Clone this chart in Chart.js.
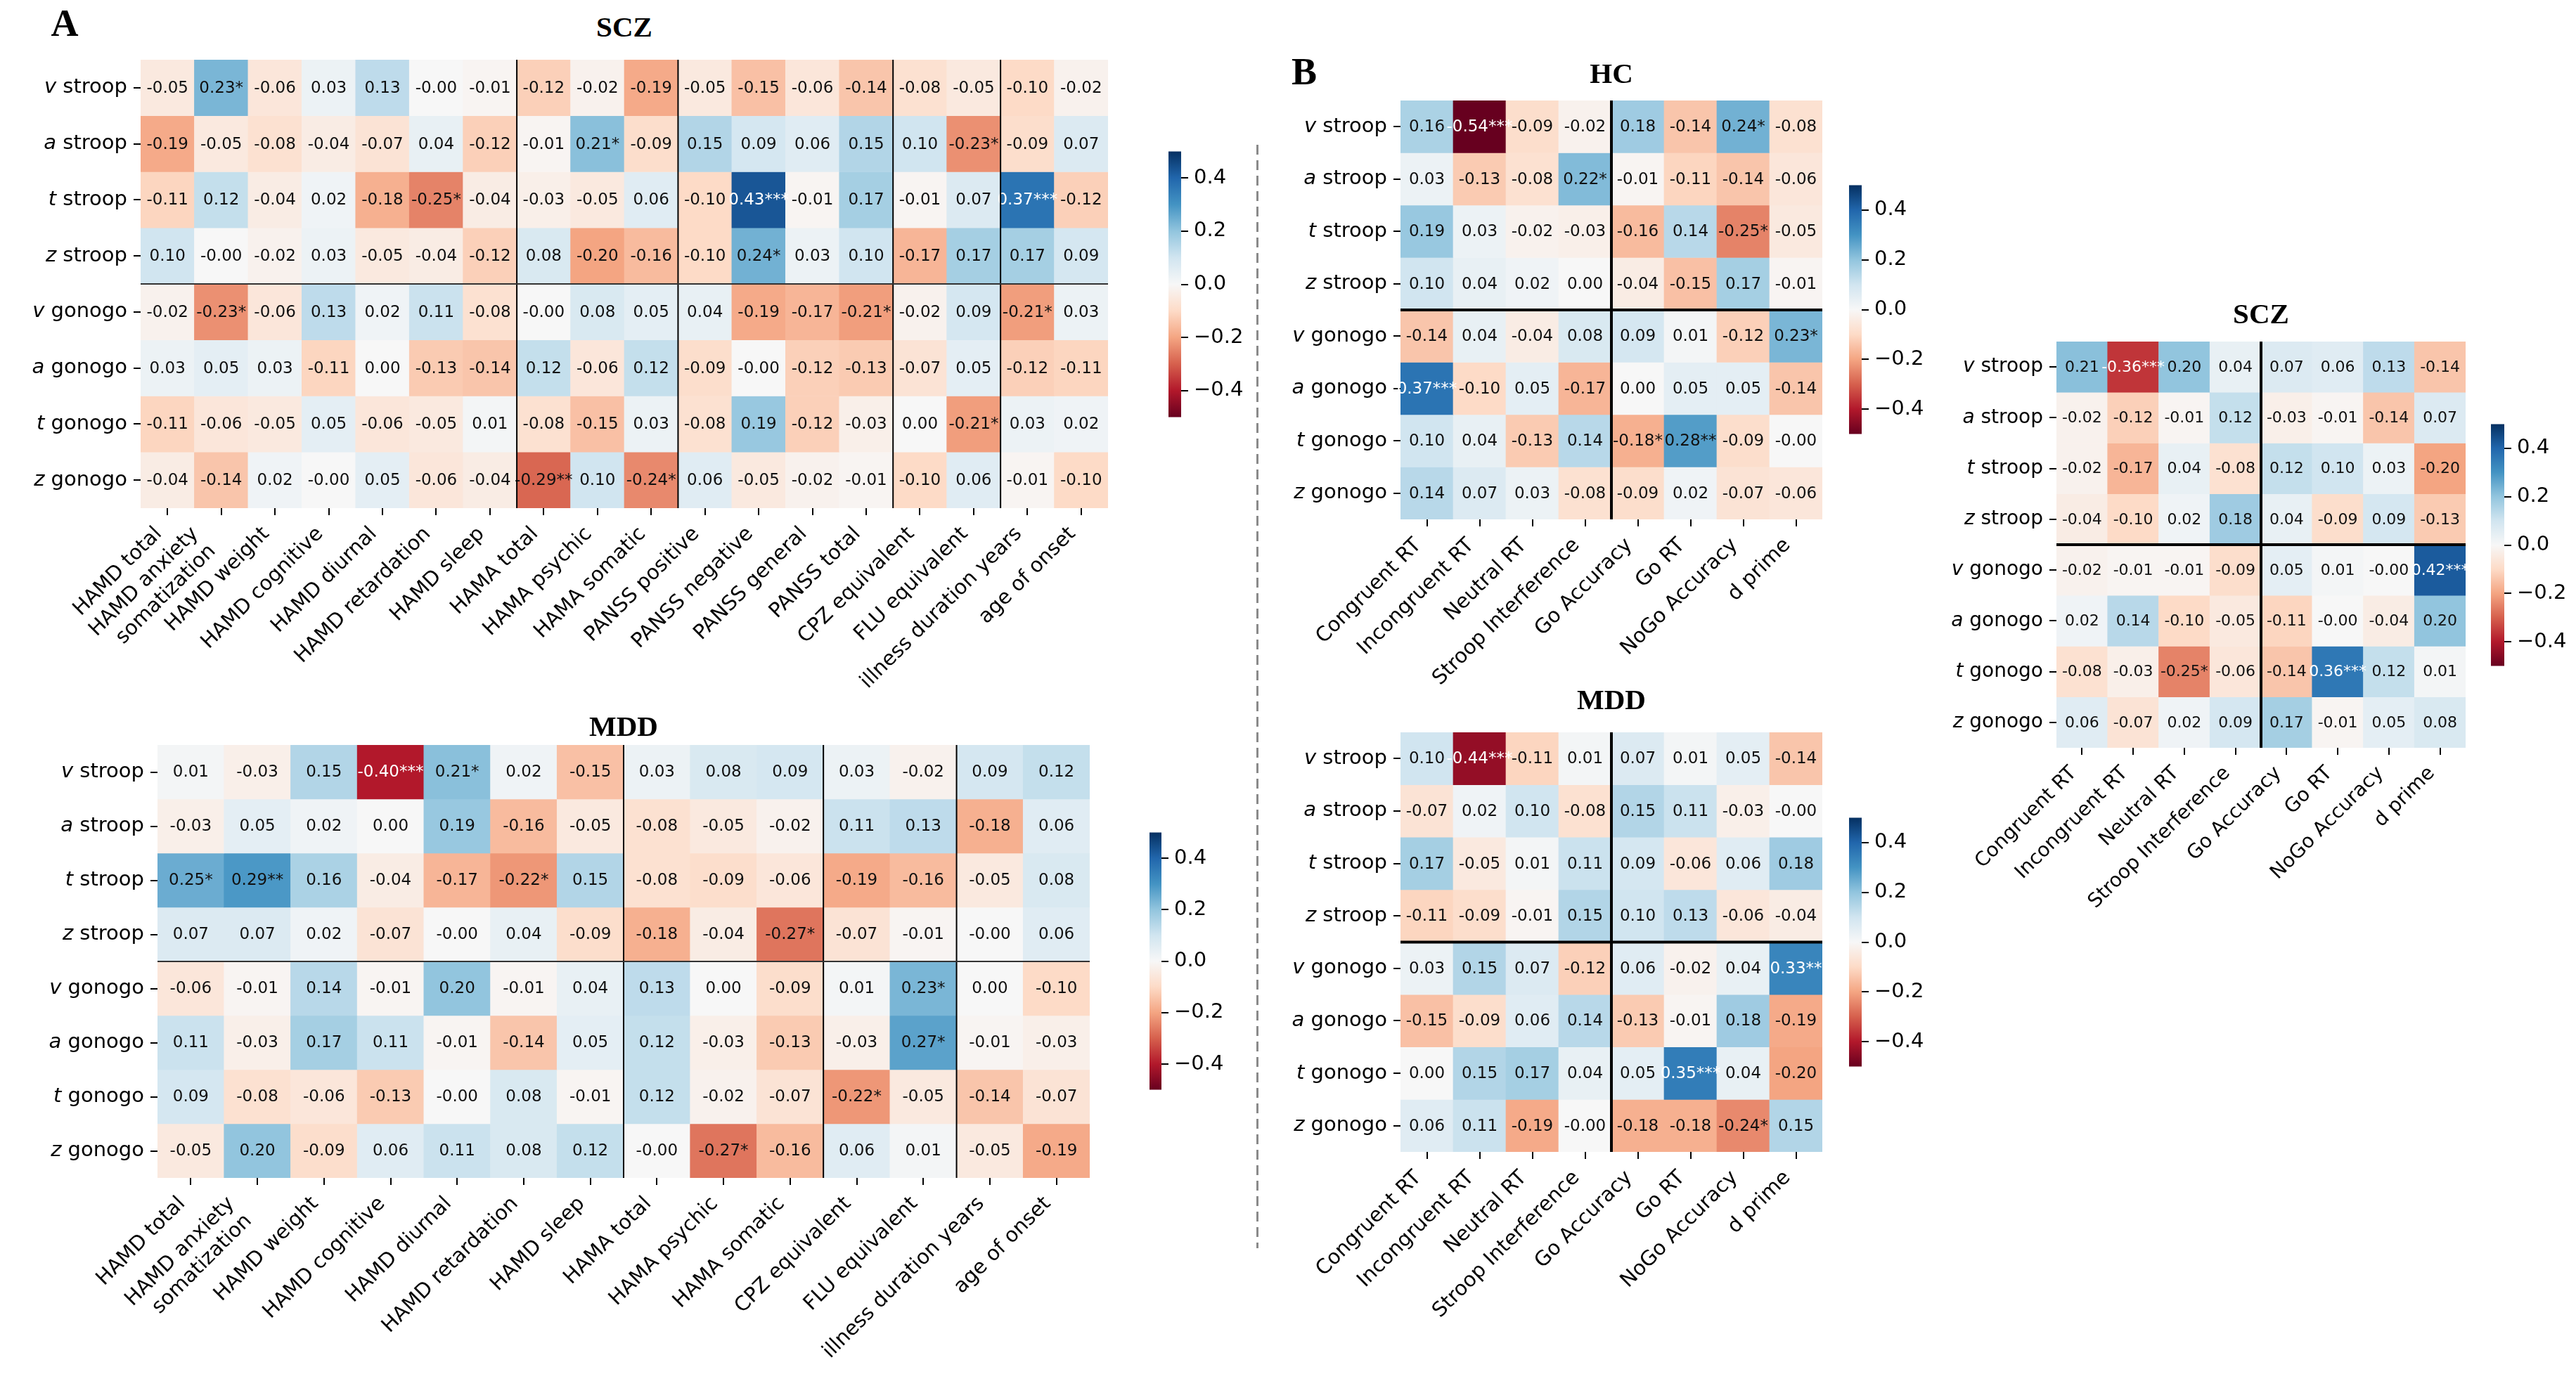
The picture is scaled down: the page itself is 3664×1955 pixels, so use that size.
<!DOCTYPE html>
<html><head><meta charset="utf-8">
<script src="https://cdn.jsdelivr.net/npm/chart.js@4.4.1/dist/chart.umd.min.js"></script>
<style>
html,body{margin:0;padding:0;background:#fff;}
#root{position:relative;width:3664px;height:1955px;overflow:hidden;background:#fff;}
#root canvas{position:absolute;}
.ttl{position:absolute;font-family:"Liberation Serif","Times New Roman",serif;font-weight:bold;color:#000;white-space:nowrap;transform:translate(-50%,-50%);line-height:1;}
.dash{position:absolute;width:3px;background:repeating-linear-gradient(to bottom,#8a8a8a 0 14px,rgba(0,0,0,0) 14px 22px);}
</style></head><body><div id="root"></div>
<script>
// ---------- data ----------
const rowVars  = ['v','a','t','z','v','a','t','z'];
const rowTasks = ['stroop','stroop','stroop','stroop','gonogo','gonogo','gonogo','gonogo'];

const clinColsSCZ = ['HAMD total',['HAMD anxiety','somatization'],'HAMD weight','HAMD cognitive','HAMD diurnal','HAMD retardation','HAMD sleep','HAMA total','HAMA psychic','HAMA somatic','PANSS positive','PANSS negative','PANSS general','PANSS total','CPZ equivalent','FLU equivalent','illness duration years','age of onset'];
const clinColsMDD = ['HAMD total',['HAMD anxiety','somatization'],'HAMD weight','HAMD cognitive','HAMD diurnal','HAMD retardation','HAMD sleep','HAMA total','HAMA psychic','HAMA somatic','CPZ equivalent','FLU equivalent','illness duration years','age of onset'];
const taskCols = ['Congruent RT','Incongruent RT','Neutral RT','Stroop Interference','Go Accuracy','Go RT','NoGo Accuracy','d prime'];

const breaksSCZA = [7,10,14,16];
const breaksMDDA = [7,10,12];
const breaksB = [4];
const rowBreak = 4;

const sczA = [
 ['-0.05','0.23*','-0.06','0.03','0.13','-0.00','-0.01','-0.12','-0.02','-0.19','-0.05','-0.15','-0.06','-0.14','-0.08','-0.05','-0.10','-0.02'],
 ['-0.19','-0.05','-0.08','-0.04','-0.07','0.04','-0.12','-0.01','0.21*','-0.09','0.15','0.09','0.06','0.15','0.10','-0.23*','-0.09','0.07'],
 ['-0.11','0.12','-0.04','0.02','-0.18','-0.25*','-0.04','-0.03','-0.05','0.06','-0.10','0.43***','-0.01','0.17','-0.01','0.07','0.37***','-0.12'],
 ['0.10','-0.00','-0.02','0.03','-0.05','-0.04','-0.12','0.08','-0.20','-0.16','-0.10','0.24*','0.03','0.10','-0.17','0.17','0.17','0.09'],
 ['-0.02','-0.23*','-0.06','0.13','0.02','0.11','-0.08','-0.00','0.08','0.05','0.04','-0.19','-0.17','-0.21*','-0.02','0.09','-0.21*','0.03'],
 ['0.03','0.05','0.03','-0.11','0.00','-0.13','-0.14','0.12','-0.06','0.12','-0.09','-0.00','-0.12','-0.13','-0.07','0.05','-0.12','-0.11'],
 ['-0.11','-0.06','-0.05','0.05','-0.06','-0.05','0.01','-0.08','-0.15','0.03','-0.08','0.19','-0.12','-0.03','0.00','-0.21*','0.03','0.02'],
 ['-0.04','-0.14','0.02','-0.00','0.05','-0.06','-0.04','-0.29**','0.10','-0.24*','0.06','-0.05','-0.02','-0.01','-0.10','0.06','-0.01','-0.10']
];
const mddA = [
 ['0.01','-0.03','0.15','-0.40***','0.21*','0.02','-0.15','0.03','0.08','0.09','0.03','-0.02','0.09','0.12'],
 ['-0.03','0.05','0.02','0.00','0.19','-0.16','-0.05','-0.08','-0.05','-0.02','0.11','0.13','-0.18','0.06'],
 ['0.25*','0.29**','0.16','-0.04','-0.17','-0.22*','0.15','-0.08','-0.09','-0.06','-0.19','-0.16','-0.05','0.08'],
 ['0.07','0.07','0.02','-0.07','-0.00','0.04','-0.09','-0.18','-0.04','-0.27*','-0.07','-0.01','-0.00','0.06'],
 ['-0.06','-0.01','0.14','-0.01','0.20','-0.01','0.04','0.13','0.00','-0.09','0.01','0.23*','0.00','-0.10'],
 ['0.11','-0.03','0.17','0.11','-0.01','-0.14','0.05','0.12','-0.03','-0.13','-0.03','0.27*','-0.01','-0.03'],
 ['0.09','-0.08','-0.06','-0.13','-0.00','0.08','-0.01','0.12','-0.02','-0.07','-0.22*','-0.05','-0.14','-0.07'],
 ['-0.05','0.20','-0.09','0.06','0.11','0.08','0.12','-0.00','-0.27*','-0.16','0.06','0.01','-0.05','-0.19']
];
const hcB = [
 ['0.16','-0.54***','-0.09','-0.02','0.18','-0.14','0.24*','-0.08'],
 ['0.03','-0.13','-0.08','0.22*','-0.01','-0.11','-0.14','-0.06'],
 ['0.19','0.03','-0.02','-0.03','-0.16','0.14','-0.25*','-0.05'],
 ['0.10','0.04','0.02','0.00','-0.04','-0.15','0.17','-0.01'],
 ['-0.14','0.04','-0.04','0.08','0.09','0.01','-0.12','0.23*'],
 ['0.37***','-0.10','0.05','-0.17','0.00','0.05','0.05','-0.14'],
 ['0.10','0.04','-0.13','0.14','-0.18*','0.28**','-0.09','-0.00'],
 ['0.14','0.07','0.03','-0.08','-0.09','0.02','-0.07','-0.06']
];
const mddB = [
 ['0.10','-0.44***','-0.11','0.01','0.07','0.01','0.05','-0.14'],
 ['-0.07','0.02','0.10','-0.08','0.15','0.11','-0.03','-0.00'],
 ['0.17','-0.05','0.01','0.11','0.09','-0.06','0.06','0.18'],
 ['-0.11','-0.09','-0.01','0.15','0.10','0.13','-0.06','-0.04'],
 ['0.03','0.15','0.07','-0.12','0.06','-0.02','0.04','0.33**'],
 ['-0.15','-0.09','0.06','0.14','-0.13','-0.01','0.18','-0.19'],
 ['0.00','0.15','0.17','0.04','0.05','0.35***','0.04','-0.20'],
 ['0.06','0.11','-0.19','-0.00','-0.18','-0.18','-0.24*','0.15']
];
const sczB = [
 ['0.21','-0.36***','0.20','0.04','0.07','0.06','0.13','-0.14'],
 ['-0.02','-0.12','-0.01','0.12','-0.03','-0.01','-0.14','0.07'],
 ['-0.02','-0.17','0.04','-0.08','0.12','0.10','0.03','-0.20'],
 ['-0.04','-0.10','0.02','0.18','0.04','-0.09','0.09','-0.13'],
 ['-0.02','-0.01','-0.01','-0.09','0.05','0.01','-0.00','0.42***'],
 ['0.02','0.14','-0.10','-0.05','-0.11','-0.00','-0.04','0.20'],
 ['-0.08','-0.03','-0.25*','-0.06','-0.14','0.36***','0.12','0.01'],
 ['0.06','-0.07','0.02','0.09','0.17','-0.01','0.05','0.08']
];

const cbMin = -0.5, cbMax = 0.5;
const cbTicks = [-0.4,-0.2,0.0,0.2,0.4];
const RDBU = [[103,0,31],[178,24,43],[214,96,77],[244,165,130],[253,219,199],[247,247,247],[209,229,240],[146,197,222],[67,147,195],[33,102,172],[5,48,97]];

// ---------- helpers ----------
const FONT = '"DejaVu Sans", "Liberation Sans", sans-serif';
Chart.defaults.font.family = FONT;
Chart.defaults.color = '#000';
const root = document.getElementById('root');

function cmap(v){
  let t = (v - cbMin) / (cbMax - cbMin);
  t = Math.max(0, Math.min(1, t));
  const p = t * (RDBU.length - 1);
  const i = Math.min(RDBU.length - 2, Math.floor(p));
  const f = p - i, a = RDBU[i], b = RDBU[i+1];
  return 'rgb(' + [0,1,2].map(k => Math.round(a[k] + (b[k]-a[k])*f)).join(',') + ')';
}
function mkCanvas(left, top, w, h){
  const c = document.createElement('canvas');
  c.width = w; c.height = h;
  c.style.left = left + 'px'; c.style.top = top + 'px';
  c.style.width = w + 'px'; c.style.height = h + 'px';
  root.appendChild(c);
  return c;
}
function addText(txt, cx, cy, size, cls){
  const d = document.createElement('div');
  d.className = cls || 'ttl';
  d.textContent = txt;
  d.style.left = cx + 'px'; d.style.top = cy + 'px'; d.style.fontSize = size + 'px';
  root.appendChild(d);
}

function heatmap(o){
  const {cols, rows, box, padL, padR, padT, padB, breaks, lineW, hColor, annot, tickFont} = o;
  const cw = box.w + padL + padR, ch = box.h + padT + padB;
  const canvas = mkCanvas(box.x - padL, box.y - padT, cw, ch);
  const nR = rows.length;
  const datasets = rows.map((row, r) => ({
    data: row.map(() => [r, r + 1]),
    backgroundColor: row.map(s => cmap(parseFloat(s))),
    borderWidth: 0, grouped: false, barPercentage: 1, categoryPercentage: 1
  }));
  const plug = {
    id: 'heat',
    afterDatasetsDraw(chart){
      const ctx = chart.ctx, ca = chart.chartArea;
      ctx.save();
      ctx.font = annot + 'px ' + FONT;
      ctx.textAlign = 'center'; ctx.textBaseline = 'middle';
      chart.data.datasets.forEach((ds, r) => {
        chart.getDatasetMeta(r).data.forEach((el, k) => {
          const s = rows[r][k];
          ctx.fillStyle = Math.abs(parseFloat(s)) >= 0.3 ? '#ffffff' : '#111111';
          ctx.fillText(s, el.x, (el.y + el.base) / 2 + 1);
        });
      });
      // separator lines
      const m0 = chart.getDatasetMeta(0).data;
      ctx.strokeStyle = '#000'; ctx.lineWidth = lineW;
      breaks.forEach(k => {
        const x = (m0[k-1].x + m0[k].x) / 2;
        ctx.beginPath(); ctx.moveTo(x, ca.top); ctx.lineTo(x, ca.bottom); ctx.stroke();
      });
      const ys = chart.scales.y;
      const y = ys.getPixelForValue(rowBreak);
      ctx.strokeStyle = hColor;
      ctx.beginPath(); ctx.moveTo(ca.left, y); ctx.lineTo(ca.right, y); ctx.stroke();
      ctx.restore();
    },
    afterDraw(chart){
      const ctx = chart.ctx, ca = chart.chartArea, ys = chart.scales.y, xs = chart.scales.x;
      ctx.save();
      ctx.textAlign = 'right'; ctx.textBaseline = 'middle'; ctx.fillStyle = '#000';
      // y tick labels: italic variable letter + task name
      const xr = ca.left - 10 - 9;
      rowTasks.forEach((task, i) => {
        const y = ys.getPixelForValue(i + 0.5);
        ctx.font = tickFont + 'px ' + FONT;
        const main = ' ' + task;
        const w = ctx.measureText(main).width;
        ctx.fillText(main, xr, y);
        ctx.font = 'italic ' + tickFont + 'px ' + FONT;
        ctx.fillText(rowVars[i], xr - w, y);
      });
      // x tick labels: rotated 45deg, block's top-right corner at the tick
      ctx.font = tickFont + 'px ' + FONT;
      const lh = tickFont * 1.2, s45 = Math.SQRT1_2;
      const yTop = ca.bottom + 10 + 10;
      cols.forEach((lab, k) => {
        const lines = Array.isArray(lab) ? lab : [lab];
        const H = lines.length * lh;
        const tx = xs.getPixelForTick(k);
        const ox = tx - H * s45, oy = yTop;
        lines.forEach((ln, j) => {
          const v = (j + 0.5) * lh;
          ctx.save();
          ctx.translate(ox + v * s45, oy + v * s45);
          ctx.rotate(-Math.PI / 4);
          ctx.textAlign = 'right'; ctx.textBaseline = 'middle';
          ctx.fillText(ln, 0, 0);
          ctx.restore();
        });
      });
      ctx.restore();
    }
  };
  new Chart(canvas, {
    type: 'bar',
    data: {labels: cols, datasets},
    options: {
      responsive: false, animation: false, devicePixelRatio: 1,
      layout: {padding: {top: padT, right: padR, left: 0, bottom: 0}},
      plugins: {legend: {display: false}, tooltip: {enabled: false}},
      scales: {
        x: {
          type: 'category', offset: true,
          grid: {offset: false, drawOnChartArea: false, drawTicks: true, tickLength: 10, color: '#000', lineWidth: 2},
          border: {display: false},
          ticks: {display: false, autoSkip: false},
          afterFit: s => { s.height = padB; }
        },
        y: {
          type: 'linear', min: 0, max: nR, reverse: true,
          grid: {drawOnChartArea: false, drawTicks: true, tickLength: 10, color: '#000', lineWidth: 2},
          border: {display: false},
          ticks: {display: false},
          afterBuildTicks: s => { s.ticks = rows.map((_, i) => ({value: i + 0.5})); },
          afterFit: s => { s.width = padL; }
        }
      }
    },
    plugins: [plug]
  });
}

function colorbar(b){
  const padV = 24, axW = 110;
  const canvas = mkCanvas(b.x, b.y - padV, b.w + axW, b.h + 2*padV);
  new Chart(canvas, {
    type: 'bar',
    data: {labels: [''], datasets: [{
      data: [[cbMin, cbMax]],
      backgroundColor: (c) => {
        const ca = c.chart.chartArea;
        if (!ca) return '#fff';
        const g = c.chart.ctx.createLinearGradient(0, ca.bottom, 0, ca.top);
        RDBU.forEach((col, i) => g.addColorStop(i / (RDBU.length - 1), 'rgb(' + col.join(',') + ')'));
        return g;
      },
      borderWidth: 0, barPercentage: 1, categoryPercentage: 1
    }]},
    options: {
      responsive: false, animation: false, devicePixelRatio: 1,
      layout: {padding: {top: padV, bottom: padV, left: 0, right: 0}},
      plugins: {legend: {display: false}, tooltip: {enabled: false}},
      scales: {
        x: {display: false},
        y: {
          position: 'right', min: cbMin, max: cbMax,
          afterBuildTicks: s => { s.ticks = cbTicks.map(v => ({value: v})); },
          ticks: {font: {family: FONT, size: 29}, color: '#000', padding: 8,
                  callback: v => (Math.abs(v) < 1e-9 ? '0.0' : (v < 0 ? '\u2212' : '') + Math.abs(v).toFixed(1))},
          grid: {drawOnChartArea: false, drawTicks: true, tickLength: 10, color: '#000', lineWidth: 2},
          border: {display: false},
          afterFit: s => { s.width = axW; }
        }
      }
    }
  });
}

// ---------- panels ----------
heatmap({cols: clinColsSCZ, rows: sczA, box: {x: 200, y: 85, w: 1376, h: 638}, padL: 200, padR: 40, padT: 20, padB: 290, breaks: breaksSCZA, lineW: 2, hColor: '#333', annot: 23, tickFont: 29});
heatmap({cols: clinColsMDD, rows: mddA, box: {x: 224, y: 1060, w: 1326, h: 616}, padL: 224, padR: 40, padT: 20, padB: 275, breaks: breaksMDDA, lineW: 2, hColor: '#333', annot: 23, tickFont: 29});
heatmap({cols: taskCols, rows: hcB, box: {x: 1992, y: 143, w: 600, h: 596}, padL: 200, padR: 20, padT: 20, padB: 245, breaks: breaksB, lineW: 4, hColor: '#000', annot: 23, tickFont: 29});
heatmap({cols: taskCols, rows: mddB, box: {x: 1992, y: 1042, w: 600, h: 597}, padL: 200, padR: 20, padT: 20, padB: 260, breaks: breaksB, lineW: 4, hColor: '#000', annot: 23, tickFont: 29});
heatmap({cols: taskCols, rows: sczB, box: {x: 2925, y: 486, w: 582, h: 578}, padL: 200, padR: 20, padT: 20, padB: 260, breaks: breaksB, lineW: 4, hColor: '#000', annot: 22, tickFont: 28});

colorbar({x: 1662, y: 214, w: 18, h: 381});
colorbar({x: 1635, y: 1183, w: 17, h: 369});
colorbar({x: 2630, y: 262, w: 18, h: 357});
colorbar({x: 2630, y: 1162, w: 18, h: 357});
colorbar({x: 3543, y: 602, w: 19, h: 347});

addText('A', 92, 33, 54);
addText('SCZ', 888, 38, 41);
addText('MDD', 887, 1033, 41);
addText('B', 1855, 102, 54);
addText('HC', 2292, 104, 41);
addText('MDD', 2292, 995, 41);
addText('SCZ', 3216, 446, 41);

const dash = document.createElement('div');
dash.className = 'dash';
dash.style.left = '1787px'; dash.style.top = '206px'; dash.style.height = '1570px';
root.appendChild(dash);
</script>
</body></html>
